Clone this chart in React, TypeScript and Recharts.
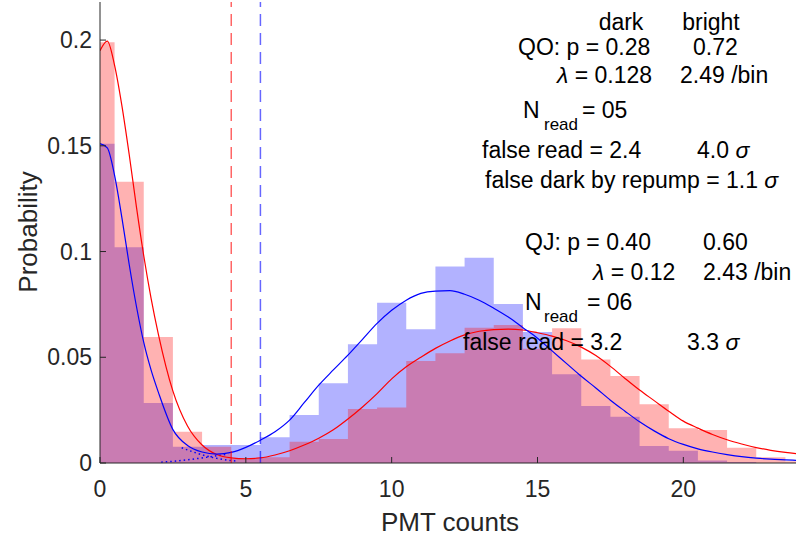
import React from "react";
import { ComposedChart, Area, Line, XAxis, YAxis, ReferenceLine } from "recharts";

// PMT count histograms, one bin per integer count
const binCenters = [0, 1, 2, 3, 4, 5, 6, 7, 8, 9, 10, 11, 12, 13, 14, 15, 16, 17, 18, 19, 20, 21, 22, 23, 24];
const qoHist = [
  0.199, 0.133, 0.0596, 0.0148, 0.0077, 0.002, 0.0027, 0.0101, 0.0114, 0.0255, 0.0263, 0.0482, 0.0519,
  0.064, 0.0653, 0.054, 0.0637, 0.049, 0.0412, 0.0278, 0.0164, 0.0156, 0.0072, 0.0027, 0.0008,
];
const qjHist = [
  0.151, 0.102, 0.0284, 0.0077, 0.0085, 0.0085, 0.0122, 0.0227, 0.0377, 0.0561, 0.0758, 0.0632, 0.0929,
  0.0971, 0.0752, 0.062, 0.042, 0.027, 0.0219, 0.008, 0.0058, 0.0012, 0.0005, 0, 0,
];

// fitted curves
const fitX = [
  0, 0.25, 0.5, 0.75, 1, 1.25, 1.5, 1.75, 2, 2.5, 3, 3.5, 4, 4.5, 5, 5.5, 6, 6.5, 7, 7.5, 8, 8.5, 9, 9.5, 10,
  10.5, 11, 11.5, 12, 12.5, 13, 13.5, 14, 14.5, 15, 15.5, 16, 16.5, 17, 17.5, 18, 18.5, 19, 19.5, 20, 20.5,
  21, 21.5, 22, 22.5, 23, 23.5, 24,
];
const qoFit = [
  0.195, 0.1995, 0.188, 0.169, 0.146, 0.121, 0.098, 0.078, 0.061, 0.034, 0.0175, 0.0085, 0.004, 0.0024, 0.002,
  0.0024, 0.0038, 0.0058, 0.0085, 0.0117, 0.0157, 0.0208, 0.0265, 0.0328, 0.0398, 0.0455, 0.05, 0.0542, 0.0577,
  0.0606, 0.0623, 0.0631, 0.0633, 0.0629, 0.0616, 0.06, 0.0578, 0.0548, 0.0508, 0.0457, 0.04, 0.0345, 0.0295,
  0.0245, 0.0198, 0.0165, 0.0135, 0.011, 0.009, 0.0073, 0.006, 0.005, 0.0042,
];
const qjFit = [
  0.151, 0.149, 0.136, 0.116, 0.094, 0.074, 0.057, 0.044, 0.0335, 0.0158, 0.0083, 0.0052, 0.0042, 0.005, 0.0074,
  0.0108, 0.0148, 0.0203, 0.0285, 0.0368, 0.044, 0.051, 0.0585, 0.066, 0.0722, 0.077, 0.0802, 0.0813, 0.0815,
  0.0798, 0.077, 0.0732, 0.069, 0.064, 0.059, 0.053, 0.047, 0.041, 0.0355, 0.0297, 0.0245, 0.0195, 0.0152,
  0.0115, 0.0088, 0.0067, 0.0052, 0.004, 0.003, 0.0023, 0.0018, 0.0015, 0.0012,
];

// dotted component tails near the threshold
const qjDarkTailX = [2.8, 3.2, 3.6, 4.0, 4.4, 4.7];
const qjDarkTail = [0.0072, 0.0052, 0.0035, 0.0022, 0.0013, 0.0009];
const qjBrightTailX = [2.1, 2.6, 3.0, 3.5, 4.0, 4.4];
const qjBrightTail = [0.0004, 0.0009, 0.0015, 0.0024, 0.0034, 0.0042];

const qoThreshold = 4.5;
const qjThreshold = 5.5;

const xTicks = [0, 5, 10, 15, 20];
const yTicks = [0, 0.05, 0.1, 0.15, 0.2];
const xMax = 24;
const yMax = 0.218;

const rows = new Map<number, Record<string, number>>();
const put = (x: number, key: string, v: number) => {
  const r = rows.get(x) ?? { x };
  r[key] = v;
  rows.set(x, r);
};
binCenters.forEach((c, i) => {
  const edge = c === 0 ? 0 : c - 0.5;
  put(edge, "qoHist", qoHist[i]);
  put(edge, "qjHist", qjHist[i]);
});
put(xMax, "qoHist", qoHist[qoHist.length - 1]);
put(xMax, "qjHist", qjHist[qjHist.length - 1]);
fitX.forEach((x, i) => {
  put(x, "qoFit", qoFit[i]);
  put(x, "qjFit", qjFit[i]);
});
qjDarkTailX.forEach((x, i) => put(x, "qjDarkTail", qjDarkTail[i]));
qjBrightTailX.forEach((x, i) => put(x, "qjBrightTail", qjBrightTail[i]));
const table = [...rows.values()].sort((a, b) => a.x - b.x);

const axisColor = "#262626";
const font = "'Liberation Sans', Arial, sans-serif";
const tickStyle = { fontSize: 23, fill: axisColor, fontFamily: font };

function Annotations() {
  const t = { fontSize: 23, fill: "#000", fontFamily: font };
  const sub = { fontSize: 17, fill: "#000", fontFamily: font };
  return (
    <svg width={796} height={544} style={{ position: "absolute", left: 0, top: 0, pointerEvents: "none" }}>
      <text x={621} y={30} textAnchor="middle" {...t}>dark</text>
      <text x={711} y={30} textAnchor="middle" {...t}>bright</text>
      <text x={518} y={55} {...t}>QO: p = 0.28</text>
      <text x={693} y={55} {...t}>0.72</text>
      <text x={557} y={83} {...t}><tspan fontStyle="italic">λ</tspan> = 0.128</text>
      <text x={680} y={83} {...t}>2.49 /bin</text>
      <text x={523} y={118} {...t}>N</text>
      <text x={544} y={130} {...sub}>read</text>
      <text x={582} y={118} {...t}>= 05</text>
      <text x={482} y={158} {...t}>false read = 2.4</text>
      <text x={697} y={158} {...t}>4.0 <tspan fontStyle="italic">σ</tspan></text>
      <text x={485} y={188} {...t}>false dark by repump = 1.1 <tspan fontStyle="italic">σ</tspan></text>
      <text x={525} y={250} {...t}>QJ: p = 0.40</text>
      <text x={703} y={250} {...t}>0.60</text>
      <text x={593} y={280} {...t}><tspan fontStyle="italic">λ</tspan> = 0.12</text>
      <text x={703} y={280} {...t}>2.43 /bin</text>
      <text x={525} y={310} {...t}>N</text>
      <text x={544} y={322} {...sub}>read</text>
      <text x={587} y={310} {...t}>= 06</text>
      <text x={463} y={350} {...t}>false read = 3.2</text>
      <text x={687} y={350} {...t}>3.3 <tspan fontStyle="italic">σ</tspan></text>
      <text x={450} y={531} textAnchor="middle" fontSize={26} fill={axisColor} fontFamily={font}>PMT counts</text>
      <text
        x={37}
        y={232}
        textAnchor="middle"
        fontSize={26}
        fill={axisColor}
        fontFamily={font}
        transform="rotate(-90 37 232)"
      >
        Probability
      </text>
    </svg>
  );
}

export default function App() {
  return (
    <div style={{ position: "absolute", left: 0, top: 0, width: 796, height: 544, overflow: "hidden", background: "#fff" }}>
      <ComposedChart width={800} height={544} data={table} margin={{ top: 2, right: 0, bottom: 21, left: 0 }}>
        <XAxis
          dataKey="x"
          type="number"
          domain={[0, xMax]}
          ticks={xTicks}
          allowDataOverflow
          height={60}
          stroke={axisColor}
          tick={tickStyle}
          tickSize={-6}
          tickMargin={24}
        />
        <XAxis
          xAxisId="top"
          orientation="top"
          dataKey="x"
          type="number"
          domain={[0, xMax]}
          ticks={xTicks}
          height={0}
          stroke={axisColor}
          tick={false}
          tickSize={-6}
        />
        <YAxis
          type="number"
          domain={[0, yMax]}
          ticks={yTicks}
          allowDataOverflow
          width={100}
          stroke={axisColor}
          tick={tickStyle}
          tickSize={-6}
          tickMargin={14}
          tickFormatter={(v: number) => `${v}`}
        />
        <YAxis
          yAxisId="right"
          orientation="right"
          type="number"
          domain={[0, yMax]}
          ticks={yTicks}
          width={0}
          stroke={axisColor}
          tick={false}
          tickSize={-10}
        />
        <Area
          dataKey="qjHist"
          type="stepAfter"
          connectNulls
          fill="#0000ff"
          fillOpacity={0.3}
          stroke="none"
          isAnimationActive={false}
        />
        <Area
          dataKey="qoHist"
          type="stepAfter"
          connectNulls
          fill="#ff0000"
          fillOpacity={0.3}
          stroke="none"
          isAnimationActive={false}
        />
        <Line dataKey="qjDarkTail" type="monotone" connectNulls dot={false} stroke="#0000ff" strokeWidth={1.5} strokeDasharray="1.5 3" isAnimationActive={false} />
        <Line dataKey="qjBrightTail" type="monotone" connectNulls dot={false} stroke="#0000ff" strokeWidth={1.5} strokeDasharray="1.5 3" isAnimationActive={false} />
        <Line dataKey="qoFit" type="monotone" connectNulls dot={false} stroke="#ff0000" strokeWidth={1.2} isAnimationActive={false} />
        <Line dataKey="qjFit" type="monotone" connectNulls dot={false} stroke="#0000ff" strokeWidth={1.2} isAnimationActive={false} />
        <ReferenceLine x={qoThreshold} stroke="#ff0000" strokeOpacity={0.6} strokeWidth={1.5} strokeDasharray="12 7" />
        <ReferenceLine x={qjThreshold} stroke="#0000ff" strokeOpacity={0.6} strokeWidth={1.5} strokeDasharray="12 7" />
      </ComposedChart>
      <Annotations />
    </div>
  );
}
